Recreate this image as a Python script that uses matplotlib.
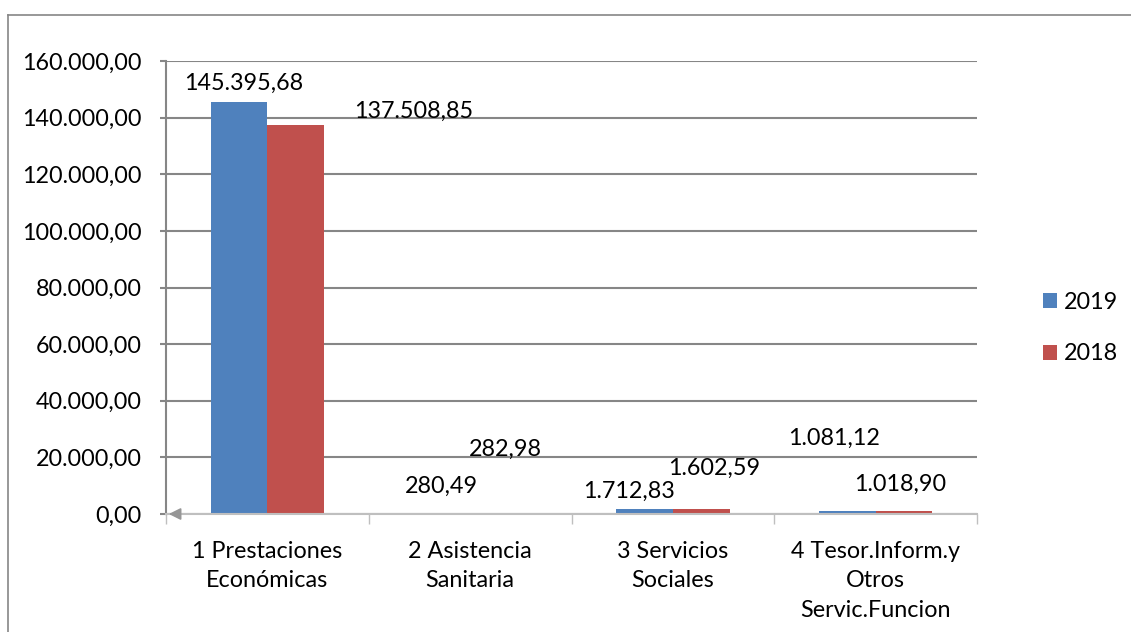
import matplotlib.pyplot as plt
from matplotlib.lines import Line2D

# ---Data---
categories = ['1 Prestaciones\nEconómicas', '2 Asistencia\nSanitaria',
              '3 Servicios\nSociales', '4 Tesor.Inform.y\nOtros\nServic.Funcion']
values_2019 = [145395.68, 280.49, 1712.83, 1081.12]
values_2018 = [137508.85, 282.98, 1602.59, 1018.90]
labels_2019 = ['145.395,68', '280,49', '1.712,83', '1.081,12']
labels_2018 = ['137.508,85', '282,98', '1.602,59', '1.018,90']
yticks = [0, 20000, 40000, 60000, 80000, 100000, 120000, 140000, 160000]

# label placement (Excel put them in odd spots) - (x offset from category, y)
pos_2019 = [(-0.116, 152200), (-0.14, 9900), (-0.214, 8100), (-0.204, 26800)]
pos_2018 = [(0.72, 142300), (0.175, 23000), (0.204, 16250), (0.12, 10600)]

blue = '#4F81BD'
red = '#C0504D'
grid_col = '#868686'
fs = 16.8

plt.rcParams['font.family'] = ['Lato', 'DejaVu Sans']

fig = plt.figure(figsize=(11.31, 6.32), dpi=100)
ax = fig.add_axes([166 / 1131, 118 / 632, (977 - 166) / 1131, (514 - 61) / 632])

w = 0.28
x = list(range(len(categories)))
ax.bar([i - w / 2 for i in x], values_2019, w, color=blue, label='2019', zorder=3)
ax.bar([i + w / 2 for i in x], values_2018, w, color=red, label='2018', zorder=3)

for i in x:
    ax.text(i + pos_2019[i][0], pos_2019[i][1], labels_2019[i], ha='center', va='center', fontsize=fs, zorder=4)
    ax.text(i + pos_2018[i][0], pos_2018[i][1], labels_2018[i], ha='center', va='center', fontsize=fs, zorder=4)

ax.set_xlim(-0.5, len(categories) - 0.5)
ax.set_ylim(0, 160000)
ax.set_yticks(yticks)
ax.set_yticklabels([f'{v:,.2f}'.replace(',', 'X').replace('.', ',').replace('X', '.') for v in yticks], fontsize=fs)
ax.yaxis.grid(True, color=grid_col, linewidth=1.5, zorder=0)
ax.tick_params(axis='y', length=4.5, width=1.5, color=grid_col, pad=13)

# category labels between ticks
ax.set_xticks([i - 0.5 for i in range(len(categories) + 1)])
ax.set_xticklabels([])
ax.tick_params(axis='x', length=7, width=1, color='#BFBFBF')
for i, c in enumerate(categories):
    ax.text(i, -9500, c, ha='center', va='top', fontsize=fs, linespacing=1.5)

for s in ['top', 'right']:
    ax.spines[s].set_visible(False)
ax.spines['left'].set_color(grid_col)
ax.spines['left'].set_linewidth(1.5)
ax.spines['bottom'].set_color('#BFBFBF')
ax.spines['bottom'].set_linewidth(1.5)
ax.spines['bottom'].set_zorder(5)

# little arrow head at the origin
ax.annotate('', xy=(-0.5, 0), xytext=(-0.42, 0),
            arrowprops=dict(arrowstyle='-|>', color='#969696', lw=1.2, mutation_scale=18),
            annotation_clip=False, zorder=6)

leg = ax.legend(loc='center left', bbox_to_anchor=(1.055, 0.41), frameon=False,
                fontsize=fs, handlelength=0.6, handleheight=0.6,
                labelspacing=1.3, handletextpad=0.3)

# outer chart border (left + top only visible)
fig.add_artist(Line2D([8 / 1131, 8 / 1131], [0, 1 - 15 / 632], color='#868686', lw=1.2, transform=fig.transFigure))
fig.add_artist(Line2D([8 / 1131, 1], [1 - 15 / 632, 1 - 15 / 632], color='#868686', lw=1.2, transform=fig.transFigure))

fig.savefig('out.png', dpi=100)
